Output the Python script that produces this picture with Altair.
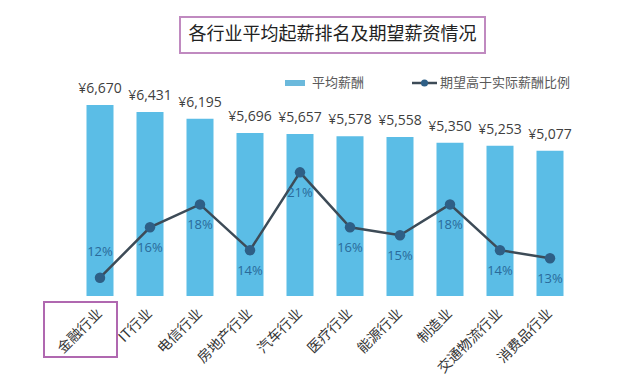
import altair as alt
import pandas as pd

categories = ["金融行业", "IT行业", "电信行业", "房地产行业", "汽车行业",
              "医疗行业", "能源行业", "制造业", "交通物流行业", "消费品行业"]
salary = [6670, 6431, 6195, 5696, 5657, 5578, 5558, 5350, 5253, 5077]
expect_pct = [11.6, 16.0, 18.0, 14.0, 20.8, 16.0, 15.3, 18.0, 14.0, 13.3]
pct_labels = ["12%", "16%", "18%", "14%", "21%", "16%", "15%", "18%", "14%", "13%"]

title_text = "各行业平均起薪排名及期望薪资情况"
legend_bar = "平均薪酬"
legend_line = "期望高于实际薪酬比例"

df = pd.DataFrame({
    "行业": categories,
    "平均薪酬": salary,
    "比例": expect_pct,
    "比例标签": pct_labels,
    "薪酬标签": ["¥{:,}".format(v) for v in salary],
})

FONT = "Noto Sans CJK SC"
BAR = "#5bbde6"
LINE = "#3d4b57"
DOT = "#2e5f86"

x = alt.X("行业:N", sort=None,
          scale=alt.Scale(paddingInner=0.46, paddingOuter=0.23),
          axis=alt.Axis(title=None, labelAngle=-45, labelAlign="right",
                        labelBaseline="middle", labelPadding=15,
                        labelFontSize=14, labelColor="#333333", labelFont=FONT,
                        domain=False, ticks=False))

y_bar = alt.Y("平均薪酬:Q", scale=alt.Scale(domain=[0, 8000]), axis=None)
y_line = alt.Y("比例:Q", scale=alt.Scale(domain=[10, 30]), axis=None)

base = alt.Chart(df)

bars = base.mark_bar(color=BAR).encode(x=x, y=y_bar)
bar_text = base.mark_text(dy=-9, baseline="bottom", fontSize=14,
                          font="Open Sans", color="#404040").encode(
    x=x, y=y_bar, text="薪酬标签:N")

line_base = base.encode(x=x, y=y_line)
line = line_base.mark_line(color=LINE, strokeWidth=2.5)
dots = line_base.mark_circle(size=110, color=DOT, opacity=1)
pct_below = line_base.mark_text(dy=21, fontSize=13, font="Open Sans",
                                color="#2a6a9a").encode(text="比例标签:N").transform_filter(
    alt.datum["行业"] != categories[0])
pct_above = line_base.mark_text(dy=-26, fontSize=13, font="Open Sans",
                                color="#2a6a9a").encode(text="比例标签:N").transform_filter(
    alt.datum["行业"] == categories[0])

one = alt.Data(values=[{"k": 1}])

title_box = alt.Chart(one).mark_rect(fill="white", stroke="#c08ac0", strokeWidth=2).encode(
    x=alt.value(105), x2=alt.value(410), y=alt.value(-50), y2=alt.value(-14))
title = alt.Chart(one).mark_text(fontSize=18, font=FONT, color="#222222",
                                 baseline="middle", align="center").encode(
    x=alt.value(257.5), y=alt.value(-32), text=alt.value(title_text))

leg_rect = alt.Chart(one).mark_rect(fill="#6bb9dc").encode(
    x=alt.value(210), x2=alt.value(230), y=alt.value(13), y2=alt.value(19))
leg_text1 = alt.Chart(one).mark_text(fontSize=13, font=FONT, color="#595959",
                                     align="left", baseline="middle").encode(
    x=alt.value(237), y=alt.value(16), text=alt.value(legend_bar))
leg_rule = alt.Chart(one).mark_rule(color=LINE, strokeWidth=2.5).encode(
    x=alt.value(337), x2=alt.value(362), y=alt.value(16))
leg_dot = alt.Chart(one).mark_circle(size=50, color=DOT, opacity=1).encode(
    x=alt.value(349.5), y=alt.value(16))
leg_text2 = alt.Chart(one).mark_text(fontSize=13, font=FONT, color="#595959",
                                     align="left", baseline="middle").encode(
    x=alt.value(365), y=alt.value(16), text=alt.value(legend_line))

hl_box = alt.Chart(one).mark_rect(fill=None, stroke="#b068b0", strokeWidth=2).encode(
    x=alt.value(-31), x2=alt.value(42), y=alt.value(235), y2=alt.value(290))

chart = alt.layer(
    bars, bar_text, line, dots, pct_below, pct_above,
    title_box, title, leg_rect, leg_text1, leg_rule, leg_dot, leg_text2, hl_box
).resolve_scale(y="independent").properties(
    width=500, height=229,
    autosize=alt.AutoSizeParams(type="none"),
    padding={"left": 67, "top": 59, "right": 57, "bottom": 80},
    background="white",
).configure_view(stroke=None)

chart.save("out.html", embed_options={"renderer": "svg", "actions": False})
